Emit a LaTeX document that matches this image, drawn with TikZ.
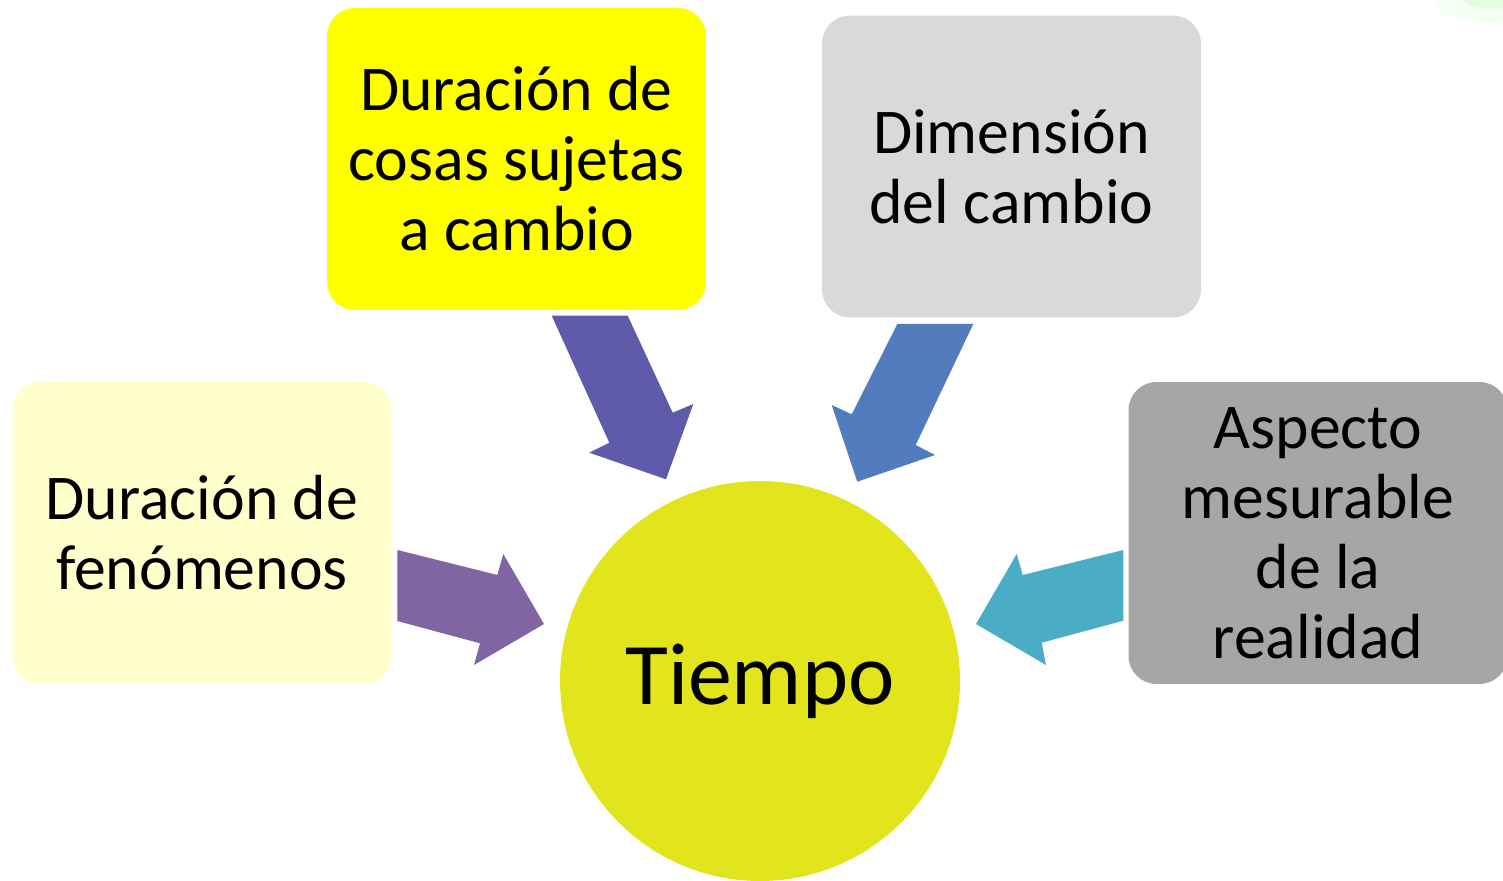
\documentclass[tikz,border=0pt]{standalone}
\usepackage{fontspec}
\setmainfont{Carlito}
\definecolor{amarillo}{HTML}{FFFF00}
\definecolor{crema}{HTML}{FFFFCC}
\definecolor{grisclaro}{HTML}{D9D9D9}
\definecolor{grisoscuro}{HTML}{A6A6A6}
\definecolor{lima}{HTML}{E2E51B}
\definecolor{indigo}{HTML}{5F5BAA}
\definecolor{azul}{HTML}{527CBD}
\definecolor{morado}{HTML}{8065A2}
\definecolor{turquesa}{HTML}{4BACC6}
\begin{document}
\begin{tikzpicture}[x=0.02cm,y=-0.02cm,
    caja/.style={rounded corners=0.56cm,inner sep=0pt,align=center,
        minimum width=7.58cm,minimum height=6.04cm,
        font=\fontsize{36.3}{39.8}\selectfont}]
 \clip (0,0) rectangle (1503,881);
 \fill[green!5] (1490,2) ellipse (55 and 20);
 \fill[green!12] (1494,0) ellipse (30 and 8);

 \node[caja,fill=amarillo]   (cosas)     at (516.5,159) {Duración de\\cosas sujetas\\a cambio};
 \node[caja,fill=grisclaro]  (dimension) at (1011.5,166.5) {Dimensión\\del cambio};
 \node[caja,fill=crema]      (fenomenos) at (202,533) {Duración de\\fenómenos};
 \node[caja,fill=grisoscuro] (aspecto)   at (1318,533) {Aspecto\\mesurable\\de la\\realidad};
 \node[circle,fill=lima,minimum size=8cm,font=\fontsize{50}{60}\selectfont] (tiempo) at (760,681) {Tiempo};

 % flechas hacia el tiempo
 \fill[indigo] (551.7,315.7) -- (627.7,315.7) -- (672.7,412.7) -- (693.3,404)
               -- (666,479.3) -- (589.3,452.7) -- (609.3,442.7) -- cycle;
 \fill[azul] (973.3,324) -- (897.3,324) -- (851.7,414.3) -- (831.7,405)
             -- (857.3,481.7) -- (935,455) -- (915.7,445) -- cycle;
 \fill[morado] (397.3,550) -- (397.3,621) -- (480,643.3) -- (474,665)
               -- (544,624) -- (503.3,554) -- (497.3,575) -- cycle;
 \fill[turquesa] (1123.3,550) -- (1123.3,620.7) -- (1041.7,642.7) -- (1046,665)
                 -- (976,624) -- (1016.7,554) -- (1022.7,575) -- cycle;

\end{tikzpicture}
\end{document}
